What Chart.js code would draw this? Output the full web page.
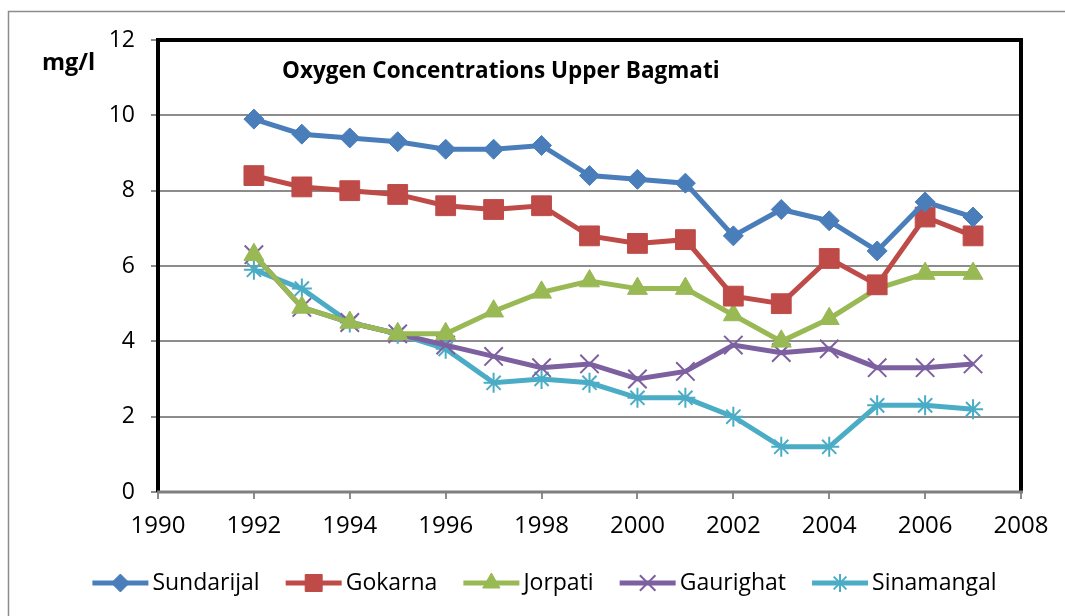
<!DOCTYPE html>
<html>
<head>
<meta charset="utf-8">
<script src="https://cdn.jsdelivr.net/npm/chart.js@4"></script>
<style>
html,body{margin:0;padding:0;background:#fff;}
#wrap{width:1065px;height:616px;position:relative;}
</style>
</head>
<body>
<div id="wrap"><canvas id="c" width="1065" height="616"></canvas></div>
<script>
const years = [1992,1993,1994,1995,1996,1997,1998,1999,2000,2001,2002,2003,2004,2005,2006,2007];
const sundarijal = [9.9,9.5,9.4,9.3,9.1,9.1,9.2,8.4,8.3,8.2,6.8,7.5,7.2,6.4,7.7,7.3];
const gokarna    = [8.4,8.1,8.0,7.9,7.6,7.5,7.6,6.8,6.6,6.7,5.2,5.0,6.2,5.5,7.3,6.8];
const jorpati    = [6.3,4.9,4.5,4.2,4.2,4.8,5.3,5.6,5.4,5.4,4.7,4.0,4.6,5.4,5.8,5.8];
const gaurighat  = [6.3,4.9,4.5,4.2,3.9,3.6,3.3,3.4,3.0,3.2,3.9,3.7,3.8,3.3,3.3,3.4];
const sinamangal = [5.9,5.4,4.5,4.2,3.8,2.9,3.0,2.9,2.5,2.5,2.0,1.2,1.2,2.3,2.3,2.2];
const seriesNames = ['Sundarijal','Gokarna','Jorpati','Gaurighat','Sinamangal'];
const xTicks = [1990,1992,1994,1996,1998,2000,2002,2004,2006,2008];
const yTicks = [0,2,4,6,8,10,12];
const chartTitle = 'Oxygen Concentrations Upper Bagmati';
const unitLabel = 'mg/l';

const FONT = '"Open Sans", "Noto Sans", sans-serif';
const toPts = arr => arr.map((v,i)=>({x:years[i], y:v}));
const styles = [
  {color:'#4A7EBB', pointStyle:'rectRot', r:10, bw:1, lr:9},
  {color:'#BE4B48', pointStyle:'rect', r:14, bw:1, lr:12},
  {color:'#98B954', pointStyle:'triangle', r:11.5, bw:1, lr:10},
  {color:'#7D60A0', pointStyle:'crossRot', r:13, bw:2, lr:11},
  {color:'#4BACC6', pointStyle:'star', r:10, bw:2, lr:9}
];
const values = [sundarijal,gokarna,jorpati,gaurighat,sinamangal];
const datasets = values.map((arr,i)=>({
  label: seriesNames[i],
  data: toPts(arr),
  borderColor: styles[i].color,
  backgroundColor: styles[i].color,
  pointBackgroundColor: styles[i].color,
  pointBorderColor: styles[i].color,
  pointStyle: styles[i].pointStyle,
  pointRadius: styles[i].r,
  pointHoverRadius: styles[i].r,
  pointBorderWidth: styles[i].bw,
  legendRadius: styles[i].lr,
  borderWidth: 5,
  tension: 0,
  fill: false
}));

const decor = {
  id:'decor',
  beforeDraw(chart){
    const ctx = chart.ctx;
    ctx.save();
    ctx.fillStyle='#fff';
    ctx.fillRect(0,0,chart.width,chart.height);
    ctx.strokeStyle='#8c8c8c';
    ctx.lineWidth=1.5;
    ctx.beginPath();
    ctx.moveTo(8.5,616);
    ctx.lineTo(8.5,11.5);
    ctx.lineTo(1065,11.5);
    ctx.stroke();
    ctx.restore();
  },
  afterDatasetsDraw(chart){
    const ctx = chart.ctx; const a = chart.chartArea;
    ctx.save();
    // frame
    ctx.strokeStyle='#000';
    ctx.lineWidth=4;
    ctx.beginPath();
    ctx.moveTo(a.left, a.bottom);
    ctx.lineTo(a.left, a.top);
    ctx.lineTo(a.right, a.top);
    ctx.lineTo(a.right, a.bottom);
    ctx.stroke();
    ctx.strokeStyle='#7f7f7f';
    ctx.lineWidth=3;
    ctx.beginPath();
    ctx.moveTo(a.left-1, a.bottom);
    ctx.lineTo(a.right+2, a.bottom);
    ctx.stroke();
    // title & unit
    ctx.fillStyle='#000';
    ctx.textBaseline='middle';
    ctx.textAlign='left';
    ctx.font='bold 22.5px '+FONT;
    ctx.fillText(chartTitle, 282, 72);
    ctx.font='bold 23.5px '+FONT;
    ctx.fillText(unitLabel, 42, 63);
    // legend
    ctx.font='23px '+FONT;
    const lineLen = 56, gapAfterLine = 4, gapBetween = 26;
    const items = chart.data.datasets.map(d=>({d, w: ctx.measureText(d.label).width}));
    let total = 0;
    items.forEach((it,i)=>{ total += lineLen + gapAfterLine + it.w + (i<items.length-1?gapBetween:0); });
    let x = (chart.width - total)/2 + 12;
    const y = 583;
    items.forEach(it=>{
      const d = it.d;
      ctx.strokeStyle = d.borderColor; ctx.lineWidth = 5;
      ctx.beginPath(); ctx.moveTo(x, y); ctx.lineTo(x+lineLen, y); ctx.stroke();
      ctx.fillStyle = d.pointBackgroundColor; ctx.strokeStyle = d.pointBorderColor;
      ctx.lineWidth = d.pointBorderWidth;
      Chart.helpers.drawPoint(ctx, {pointStyle:d.pointStyle, radius: d.legendRadius, rotation:0, borderWidth:d.pointBorderWidth}, x+lineLen/2, y);
      ctx.fillStyle='#000';
      ctx.textAlign='left'; ctx.textBaseline='middle';
      ctx.fillText(d.label, x+lineLen+gapAfterLine, y);
      x += lineLen + gapAfterLine + it.w + gapBetween;
    });
    ctx.restore();
  }
};

new Chart(document.getElementById('c'), {
  type:'line',
  data:{datasets},
  plugins:[decor],
  options:{
    responsive:false,
    animation:false,
    devicePixelRatio:1,
    layout:{padding:{left:0, top:40, right:44, bottom:64}},
    plugins:{legend:{display:false}, tooltip:{enabled:false}, title:{display:false}},
    scales:{
      x:{
        type:'linear', min:1990, max:2008,
        afterBuildTicks(s){ s.ticks = xTicks.map(v=>({value:v})); },
        afterFit(s){ s.height = 60; },
        grid:{drawOnChartArea:false, color:'#8c8c8c', lineWidth:2, tickLength:7, drawTicks:true},
        border:{display:false},
        ticks:{color:'#000', font:{family:FONT, size:24}, padding:13, maxRotation:0, autoSkip:false,
          callback:v=>String(v)}
      },
      y:{
        min:0, max:12,
        afterBuildTicks(s){ s.ticks = yTicks.map(v=>({value:v})); },
        afterFit(s){ s.width = 158; },
        grid:{color:'#8c8c8c', lineWidth:2, tickLength:7},
        border:{display:false},
        ticks:{color:'#000', font:{family:FONT, size:23}, padding:16, callback:v=>String(v)}
      }
    }
  }
});
</script>
</body>
</html>
